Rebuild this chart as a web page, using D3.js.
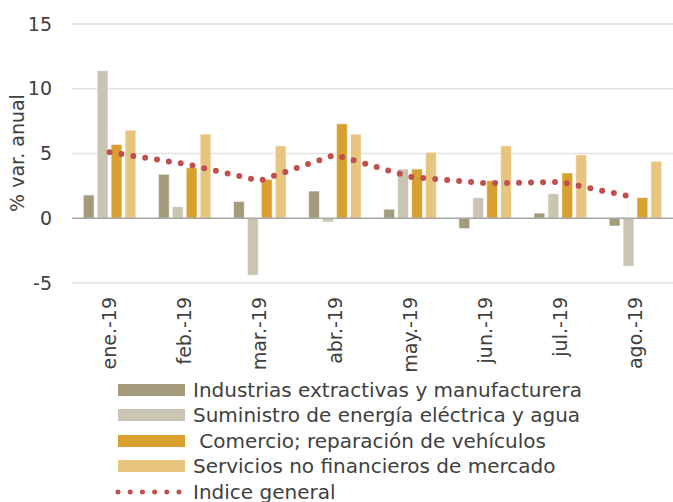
<!DOCTYPE html>
<html>
<head>
<meta charset="utf-8">
<script src="https://cdn.jsdelivr.net/npm/d3@7"></script>
<style>
  body { margin: 0; background: #fff; }
  text { font-family: "DejaVu Sans", sans-serif; fill: #404040; }
</style>
</head>
<body>
<div id="container"></div>
<script>
const months = ['ene.-19', 'feb.-19', 'mar.-19', 'abr.-19', 'may.-19', 'jun.-19', 'jul.-19', 'ago.-19']
const industrias = [1.8, 3.4, 1.3, 2.1, 0.7, -0.8, 0.4, -0.6]
const suministro = [11.4, 0.9, -4.4, -0.3, 3.8, 1.6, 1.9, -3.7]
const comercio = [5.7, 3.9, 3.0, 7.3, 3.8, 2.9, 3.5, 1.6]
const servicios = [6.8, 6.5, 5.6, 6.5, 5.1, 5.6, 4.9, 4.4]
const indice = [5.1, 4.2, 2.9, 4.9, 3.2, 2.7, 2.8, 1.6]
const yTicks = [-5, 0, 5, 10, 15]

const seriesNames = [
  'Industrias extractivas y manufacturera',
  'Suministro de energía eléctrica y agua',
  ' Comercio; reparación de vehículos',
  'Servicios no financieros de mercado'
]
const seriesData = [industrias, suministro, comercio, servicios]
const colors = ['#a39b7b', '#c9c5b2', '#d8a02e', '#e8c57f']
const lineColor = '#c0504d'

const width = 673
const height = 502
const left = 72
const right = 673

const svg = d3.select('#container')
  .append('svg')
  .attr('width', width)
  .attr('height', height)

const y = d3.scaleLinear()
  .domain([-5, 15])
  .range([283, 24])

const x0 = d3.scaleBand()
  .domain(months)
  .range([left, right])
  .paddingInner(0.3)
  .paddingOuter(0.15)

const x1 = d3.scaleBand()
  .domain(d3.range(4))
  .range([0, x0.bandwidth()])
  .paddingInner(0.22)

// grid
svg.append('g')
  .selectAll('line')
  .data(yTicks.filter(d => d !== 0))
  .enter()
  .append('line')
  .attr('x1', left)
  .attr('x2', right)
  .attr('y1', d => y(d))
  .attr('y2', d => y(d))
  .attr('stroke', '#e2e2e2')
  .attr('stroke-width', 1.5)

// y tick labels
svg.append('g')
  .selectAll('text')
  .data(yTicks)
  .enter()
  .append('text')
  .attr('x', 52)
  .attr('y', d => y(d))
  .attr('dy', '0.35em')
  .attr('text-anchor', 'end')
  .style('font-size', '19px')
  .text(d => d)

svg.append('text')
  .attr('transform', `translate(24, ${153}) rotate(-90)`)
  .attr('text-anchor', 'middle')
  .style('font-size', '19px')
  .text('% var. anual')

// bars
const groups = svg.append('g')
  .selectAll('g')
  .data(months)
  .enter()
  .append('g')
  .attr('transform', d => `translate(${x0(d)},0)`)

groups.selectAll('rect')
  .data((m, i) => seriesData.map((s, k) => ({ k, v: s[i] })))
  .enter()
  .append('rect')
  .attr('x', d => x1(d.k))
  .attr('width', x1.bandwidth())
  .attr('y', d => y(Math.max(0, d.v)))
  .attr('height', d => Math.abs(y(d.v) - y(0)))
  .attr('fill', d => colors[d.k])
  .attr('stroke', '#fff')
  .attr('stroke-opacity', 0.6)
  .attr('stroke-width', 1)

// zero line
svg.append('line')
  .attr('x1', left)
  .attr('x2', right)
  .attr('y1', y(0))
  .attr('y2', y(0))
  .attr('stroke', '#a6a6a6')
  .attr('stroke-width', 1.5)

// index line
const line = d3.line()
  .x((d, i) => x0(months[i]) + x0.bandwidth() / 2)
  .y(d => y(d))

svg.append('path')
  .datum(indice)
  .attr('d', line)
  .attr('fill', 'none')
  .attr('stroke', lineColor)
  .attr('stroke-width', 6)
  .attr('stroke-linecap', 'round')
  .attr('stroke-dasharray', '0 12')

// x labels
svg.append('g')
  .selectAll('text')
  .data(months)
  .enter()
  .append('text')
  .attr('transform', d => `translate(${x0(d) + x0.bandwidth() / 2}, 297) rotate(-90)`)
  .attr('text-anchor', 'end')
  .attr('dy', '0.35em')
  .style('font-size', '19px')
  .text(d => d)

// legend
const legend = svg.append('g')
const rowY = [390, 415, 441, 466, 492]

seriesNames.forEach((name, i) => {
  legend.append('rect')
    .attr('x', 118)
    .attr('y', rowY[i] - 6)
    .attr('width', 67)
    .attr('height', 12)
    .attr('fill', colors[i])
  legend.append('text')
    .attr('x', 193)
    .attr('y', rowY[i])
    .attr('dy', '0.35em')
    .style('font-size', '20px')
    .style('white-space', 'pre')
    .text(name)
})

legend.append('line')
  .attr('x1', 118)
  .attr('x2', 180)
  .attr('y1', rowY[4])
  .attr('y2', rowY[4])
  .attr('stroke', lineColor)
  .attr('stroke-width', 5)
  .attr('stroke-linecap', 'round')
  .attr('stroke-dasharray', '0 12.2')

legend.append('text')
  .attr('x', 193)
  .attr('y', rowY[4])
  .attr('dy', '0.35em')
  .style('font-size', '20px')
  .text('Indice general')
</script>
</body>
</html>
